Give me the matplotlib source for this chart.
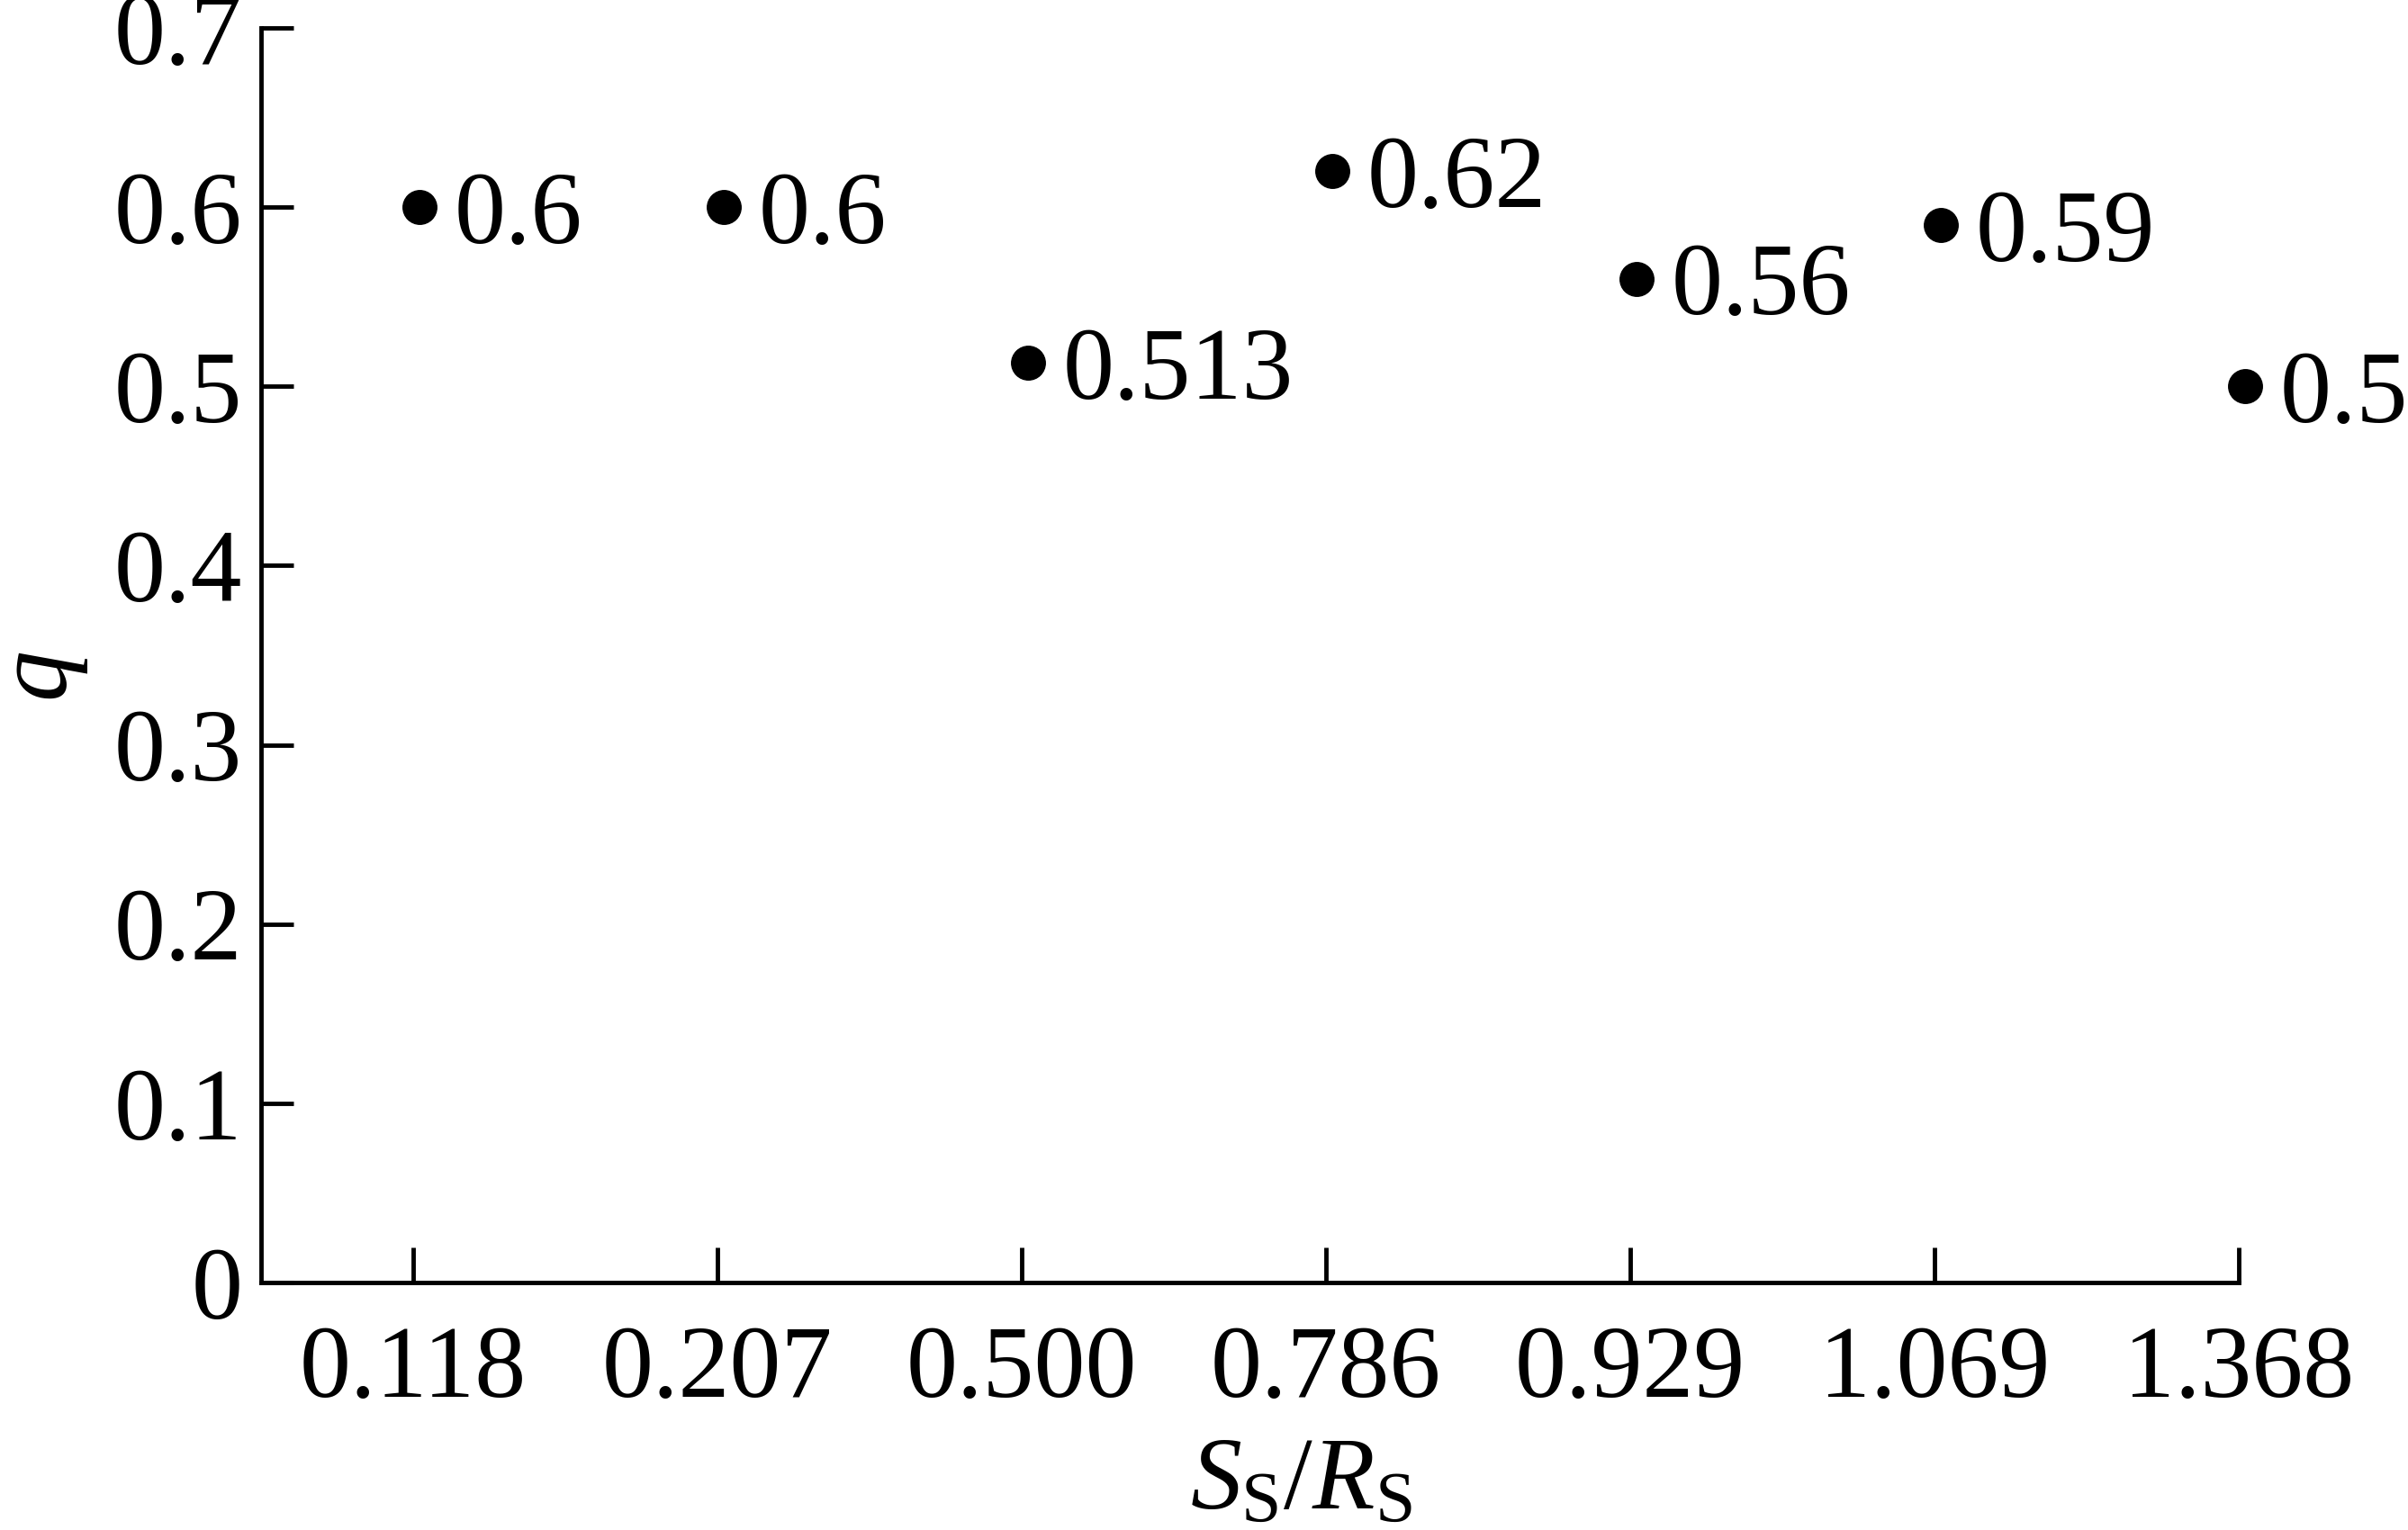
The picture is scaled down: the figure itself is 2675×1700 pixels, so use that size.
import numpy as np
import matplotlib
matplotlib.use("Agg")
import matplotlib.pyplot as plt

# Serif look like the reference (Times-like)
plt.rcParams['font.family'] = ['Liberation Serif', 'DejaVu Serif']
plt.rcParams['mathtext.fontset'] = 'custom'
plt.rcParams['mathtext.rm'] = 'Liberation Serif'
plt.rcParams['mathtext.it'] = 'Liberation Serif:italic'

# data
ratio_labels = ['0.118', '0.207', '0.500', '0.786', '0.929', '1.069', '1.368']
q_values = [0.6, 0.6, 0.513, 0.62, 0.56, 0.59, 0.5]
value_text = ['0.6', '0.6', '0.513', '0.62', '0.56', '0.59', '0.5']
y_ticks = [0, 0.1, 0.2, 0.3, 0.4, 0.5, 0.6, 0.7]
y_tick_labels = ['0', '0.1', '0.2', '0.3', '0.4', '0.5', '0.6', '0.7']

fs = 82

fig = plt.figure(figsize=(26.75, 17), dpi=100)
ax = fig.add_axes([0.1084, 0.1618, 0.8213, 0.82])

x = np.arange(len(ratio_labels))
ax.plot(x + 0.02, q_values, 'o', color='black', markersize=27, clip_on=False)

# value labels next to each point
for xi, yi, t in zip(x, q_values, value_text):
    ax.annotate(t, (xi + 0.02, yi), xytext=(28, 0), textcoords='offset points',
                ha='left', va='center_baseline', fontsize=fs, annotation_clip=False)

ax.set_xlim(-0.5, len(ratio_labels) - 1)
ax.set_ylim(0, 0.7)
ax.set_xticks(x)
ax.set_xticklabels(ratio_labels)
ax.set_yticks(y_ticks)
ax.set_yticklabels(y_tick_labels)

for s in ['top', 'right']:
    ax.spines[s].set_visible(False)
for s in ['left', 'bottom']:
    ax.spines[s].set_linewidth(3.5)

ax.tick_params(axis='x', direction='in', length=28, width=3.5, pad=34, labelsize=fs)
ax.tick_params(axis='y', direction='in', length=26, width=3.5, pad=15, labelsize=fs)

ax.set_xlabel(r'$S_\mathrm{S}/R_\mathrm{S}$', fontsize=fs, va='center')
ax.xaxis.set_label_coords(0.526, -0.16)
ax.set_ylabel(r'$q$', fontsize=fs, va='center', ha='center')
ax.yaxis.set_label_coords(-0.11, 0.483)

fig.savefig('out.png', dpi=100)
